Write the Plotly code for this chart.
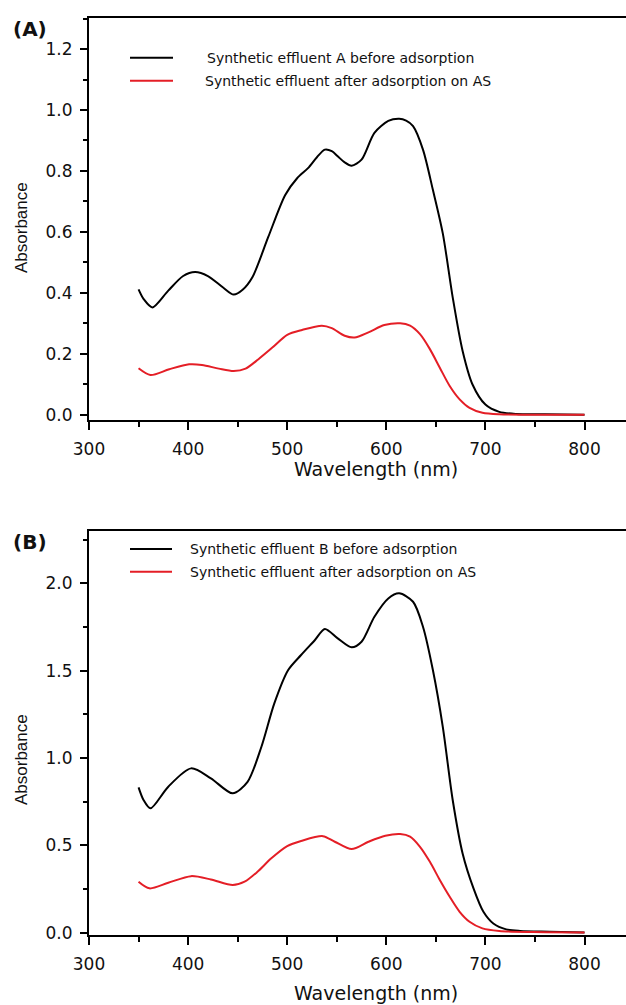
import plotly.graph_objects as go
from plotly.subplots import make_subplots

# ---------------- data ----------------
wl_a_before = [350, 355, 364, 380, 395, 407, 420, 435, 446, 455, 465, 481, 498, 510, 521, 530,
               538, 545, 551, 558, 565, 575, 588, 602, 613, 620, 627, 637, 647, 657, 667, 677,
               687, 700, 714, 731, 760, 800]
abs_a_before = [0.411, 0.380, 0.352, 0.407, 0.455, 0.468, 0.455, 0.418, 0.394, 0.410, 0.452, 0.584,
                0.721, 0.776, 0.809, 0.845, 0.870, 0.865, 0.848, 0.828, 0.817, 0.837, 0.925, 0.964,
                0.971, 0.965, 0.947, 0.870, 0.738, 0.595, 0.385, 0.209, 0.099, 0.033, 0.009, 0.002,
                0.001, 0.000]

wl_a_after = [350, 362, 381, 401, 414, 431, 446, 458, 471, 485, 500, 515, 535, 545, 558, 568, 582,
              598, 614, 624, 634, 644, 654, 664, 674, 684, 697, 714, 800]
abs_a_after = [0.152, 0.130, 0.149, 0.165, 0.163, 0.151, 0.143, 0.151, 0.182, 0.220, 0.262, 0.278,
               0.292, 0.284, 0.259, 0.253, 0.270, 0.294, 0.300, 0.292, 0.264, 0.215, 0.154, 0.094,
               0.050, 0.022, 0.006, 0.001, 0.000]

wl_b_before = [350, 355, 362, 380, 403, 423, 445, 460, 474, 487, 501, 514, 528, 538, 551, 565, 575,
               588, 602, 613, 627, 637, 647, 657, 667, 677, 688, 698, 708, 721, 735, 765, 800]
abs_b_before = [0.832, 0.760, 0.712, 0.836, 0.941, 0.884, 0.798, 0.864, 1.065, 1.313, 1.504, 1.590,
                1.676, 1.739, 1.685, 1.634, 1.666, 1.809, 1.914, 1.943, 1.895, 1.752, 1.504, 1.179,
                0.760, 0.454, 0.254, 0.120, 0.053, 0.019, 0.010, 0.006, 0.002]

wl_b_after = [350, 361, 380, 403, 423, 445, 457, 470, 484, 500, 514, 536, 548, 565, 582, 599, 614,
              624, 634, 644, 654, 664, 674, 684, 697, 714, 748, 800]
abs_b_after = [0.292, 0.254, 0.286, 0.324, 0.305, 0.273, 0.292, 0.349, 0.426, 0.496, 0.525, 0.553,
               0.521, 0.479, 0.521, 0.555, 0.565, 0.550, 0.492, 0.406, 0.302, 0.206, 0.120, 0.063,
               0.025, 0.010, 0.004, 0.002]

names_a = ["Synthetic effluent A before adsorption", "Synthetic effluent after adsorption on AS"]
names_b = ["Synthetic effluent B before adsorption", "Synthetic effluent after adsorption on AS"]
panel_labels = ["(A)", "(B)"]
x_title = "Wavelength (nm)"
y_title = "Absorbance"

BLACK = "#000000"
RED = "#e41e26"

# ---------------- geometry ----------------
W, H = 626, 1005
L = 89
PW = W - L


def px(x):
    return (x - L) / PW


def py(y):
    return (H - y) / H


fig = make_subplots(rows=2, cols=1)

line_kw = dict(shape="spline", smoothing=0.8, width=2)
fig.add_trace(go.Scatter(x=wl_a_before, y=abs_a_before, mode="lines", name=names_a[0],
                         line=dict(color=BLACK, **line_kw), showlegend=False), row=1, col=1)
fig.add_trace(go.Scatter(x=wl_a_after, y=abs_a_after, mode="lines", name=names_a[1],
                         line=dict(color=RED, **line_kw), showlegend=False), row=1, col=1)
fig.add_trace(go.Scatter(x=wl_b_before, y=abs_b_before, mode="lines", name=names_b[0],
                         line=dict(color=BLACK, **line_kw), showlegend=False), row=2, col=1)
fig.add_trace(go.Scatter(x=wl_b_after, y=abs_b_after, mode="lines", name=names_b[1],
                         line=dict(color=RED, **line_kw), showlegend=False), row=2, col=1)

tick_font = dict(family="DejaVu Sans", size=17, color="#111111")
xaxis_common = dict(
    range=[300, 300 + PW / 0.991], dtick=100, tick0=300,
    showline=True, linecolor="black", linewidth=2, mirror=True,
    ticks="outside", ticklen=8, tickwidth=2, tickcolor="black",
    minor=dict(dtick=50, ticks="outside", ticklen=5, tickwidth=2, tickcolor="black"),
    showgrid=False, zeroline=False, tickfont=tick_font, ticklabelstandoff=5,
    automargin=False,
)
yaxis_common = dict(
    showline=True, linecolor="black", linewidth=2, mirror=False,
    ticks="outside", ticklen=7, tickwidth=2, tickcolor="black",
    showgrid=False, zeroline=False, tickfont=tick_font, ticklabelstandoff=4,
    automargin=False,
)

fig.update_layout(
    width=W, height=H,
    margin=dict(l=L, r=0, t=0, b=0),
    plot_bgcolor="white", paper_bgcolor="white",
    xaxis=dict(domain=[0, 1], anchor="y", **xaxis_common),
    xaxis2=dict(domain=[0, 1], anchor="y2", **xaxis_common),
    yaxis=dict(domain=[py(419.5), py(18)], range=[-0.016, 1.302], dtick=0.2, tickformat=".1f",
               minor=dict(dtick=0.1, ticks="outside", ticklen=4, tickwidth=2, tickcolor="black"),
               **yaxis_common),
    yaxis2=dict(domain=[py(935), py(531)], range=[-0.013, 2.30], dtick=0.5, tickformat=".1f",
                minor=dict(dtick=0.25, ticks="outside", ticklen=4, tickwidth=2, tickcolor="black"),
                **yaxis_common),
)

annotations = []
shapes = []

# axis titles
for yc in (469, 993):
    annotations.append(dict(text=x_title, x=px(376), y=py(yc), xref="paper", yref="paper",
                            showarrow=False, xanchor="center", yanchor="middle",
                            font=dict(family="DejaVu Sans", size=19, color="#111111")))
for yc in (228, 760):
    annotations.append(dict(text=y_title, x=px(21), y=py(yc), xref="paper", yref="paper",
                            showarrow=False, xanchor="center", yanchor="middle", textangle=-90,
                            font=dict(family="Liberation Sans", size=17, color="#111111")))

# panel labels
for lab, yc in zip(panel_labels, (29.5, 542)):
    annotations.append(dict(text="<b>%s</b>" % lab, x=px(11), y=py(yc), xref="paper", yref="paper",
                            showarrow=False, xanchor="left", yanchor="middle",
                            font=dict(family="DejaVu Sans", size=20, color="#111111")))

# legends (drawn manually to match the reference spacing)
legend_rows = [
    (names_a[0], BLACK, 57.7, 130, 173, 205),
    (names_a[1], RED, 80.7, 130, 173, 203),
    (names_b[0], BLACK, 549, 130, 172, 188),
    (names_b[1], RED, 571.7, 130, 172, 188),
]
for txt, col, yc, x0, x1, xt in legend_rows:
    shapes.append(dict(type="line", xref="paper", yref="paper", x0=px(x0), x1=px(x1),
                       y0=py(yc), y1=py(yc), line=dict(color=col, width=2)))
    annotations.append(dict(text=txt, x=px(xt), y=py(yc), xref="paper", yref="paper",
                            showarrow=False, xanchor="left", yanchor="middle",
                            font=dict(family="DejaVu Sans", size=14, color="#111111")))

fig.update_layout(annotations=annotations, shapes=shapes)

fig.write_html("out.html", config={"displayModeBar": False},
               post_script="document.body.style.margin='0px';")
